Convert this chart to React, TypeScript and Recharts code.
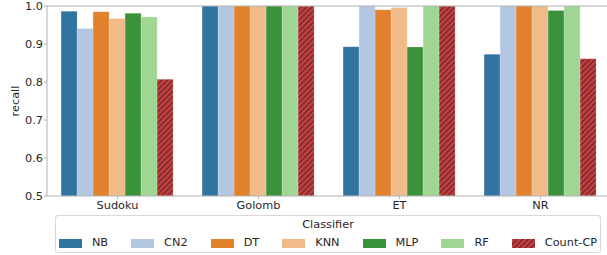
import * as React from 'react';
import { BarChart, Bar, XAxis, YAxis, ReferenceLine } from 'recharts';

const problems = ['Sudoku', 'Golomb', 'ET', 'NR'];
const classifiers = ['NB', 'CN2', 'DT', 'KNN', 'MLP', 'RF', 'Count-CP'];
const colors = ['#3274a1', '#b3c7e2', '#e1812c', '#f0bb88', '#3a923a', '#a0d694', '#c03d3e'];

const nb = [0.986, 1.0, 0.893, 0.873];
const cn2 = [0.941, 1.0, 1.0, 1.0];
const dt = [0.985, 1.0, 0.99, 1.0];
const knn = [0.967, 1.0, 0.996, 1.0];
const mlp = [0.981, 1.0, 0.892, 0.988];
const rf = [0.971, 1.0, 1.0, 1.0];
const countCp = [0.807, 1.0, 1.0, 0.861];

const yTicks = [0.5, 0.6, 0.7, 0.8, 0.9, 1.0];

const seriesValues = [nb, cn2, dt, knn, mlp, rf, countCp];
const data = problems.map((p, i) => {
  const row: any = { name: p };
  classifiers.forEach((c, j) => { row[c] = seriesValues[j][i]; });
  return row;
});

const FONT = '"DejaVu Sans", sans-serif';
const FS = 11.3;
const TEXT = '#262626';
const SPINE = '#b0b0b0';

const Hatch = () => (
  <pattern id="hatch" patternUnits="userSpaceOnUse" width="5.5" height="5.5">
    <rect width="5.5" height="5.5" fill="#c03d3e" />
    <path d="M-1,1 l2,-2 M0,5.5 l5.5,-5.5 M4.5,6.5 l2,-2" stroke="#111" strokeWidth="0.8" />
  </pattern>
);

const LegendBox = () => (
  <div style={{
    position: 'absolute', left: 55, top: 215, width: 546, height: 38,
    border: '1px solid #d8d8d8', borderRadius: 3, boxSizing: 'border-box',
    fontFamily: FONT, fontSize: FS, color: TEXT, background: '#fff'
  }}>
    <div style={{ textAlign: 'center', marginTop: 2, lineHeight: '14px' }}>Classifier</div>
    <div style={{ display: 'flex', justifyContent: 'center', alignItems: 'center', marginTop: 4, lineHeight: '14px' }}>
      {classifiers.map((c, i) => (
        <div key={c} style={{ display: 'flex', alignItems: 'center', marginLeft: i === 0 ? 0 : 23 }}>
          <svg width={23} height={9} style={{ marginRight: 10 }}>
            <rect width={23} height={9} fill={i === 6 ? 'url(#hatch)' : colors[i]} />
          </svg>
          <span>{c}</span>
        </div>
      ))}
    </div>
  </div>
);

const YLabel = () => (
  <text x={15} y={101} transform="rotate(-90 15 101)" textAnchor="middle" dominantBaseline="central"
    fill={TEXT} fontSize={FS} fontFamily={FONT}>recall</text>
);

const App = () => (
  <div style={{ position: 'absolute', left: 0, top: 0, width: 607, height: 255, overflow: 'hidden', background: '#fff' }}>
    <svg width={0} height={0} style={{ position: 'absolute' }}>
      <defs><Hatch /></defs>
    </svg>
    <BarChart
      width={620}
      height={255}
      data={data}
      margin={{ top: 6, right: 9, left: 0, bottom: 0 }}
      barCategoryGap="10%"
      barGap={0}
    >
      <XAxis
        dataKey="name"
        height={59}
        tickSize={3}
        tickMargin={2}
        stroke={SPINE}
        tick={{ fill: TEXT, fontSize: FS, fontFamily: FONT }}
      />
      <YAxis
        width={47}
        domain={[0.5, 1.0]}
        ticks={yTicks}
        allowDataOverflow
        tickSize={3}
        tickMargin={1}
        stroke={SPINE}
        tickFormatter={(v: number) => v.toFixed(1)}
        tick={{ fill: TEXT, fontSize: FS, fontFamily: FONT }}
        label={<YLabel />}
      />
      {classifiers.map((c, i) => (
        <Bar
          key={c}
          dataKey={c}
          fill={i === 6 ? 'url(#hatch)' : colors[i]}
          stroke="#ffffff"
          strokeOpacity={0.35}
          strokeWidth={0.5}
          isAnimationActive={false}
        />
      ))}
      <ReferenceLine y={1.0} stroke={SPINE} strokeWidth={1} />
    </BarChart>
    <LegendBox />
  </div>
);

export default App;
